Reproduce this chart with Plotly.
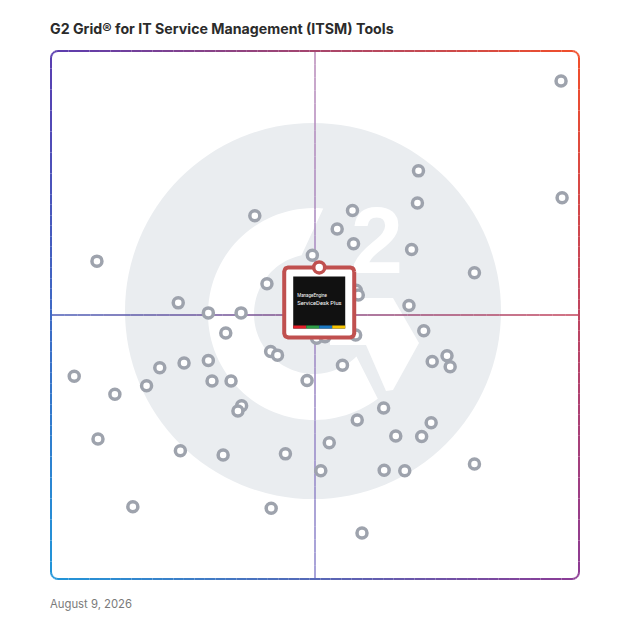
import numpy as np
import plotly.graph_objects as go

TITLE = "G2 Grid® for IT Service Management (ITSM) Tools"
DATE = "August 9, 2026"

# market presence (x) and satisfaction (y) for every product on the grid, 0-100
market_presence = [96.6, 96.8, 69.6, 69.4, 57.1, 38.6, 54.2, 57.3, 68.3, 49.5,
                   8.7, 80.2, 40.9, 57.8, 58.2, 24.1, 67.8, 29.8, 36.0, 33.1,
                   70.6, 57.7, 50.3, 51.9, 41.6, 42.9, 75.0, 72.2, 75.6, 55.2,
                   25.2, 20.6, 29.8, 4.4, 12.1, 18.1, 30.5, 34.1, 48.5, 36.1,
                   35.4, 63.0, 58.0, 72.0, 70.2, 65.3, 52.7, 8.9, 24.5, 32.6,
                   44.4, 80.2, 51.1, 63.1, 67.0, 15.5, 41.7, 58.9]
satisfaction = [94.3, 72.2, 77.3, 71.2, 69.8, 68.8, 66.3, 63.5, 62.4, 61.3,
                60.2, 58.0, 55.9, 54.7, 53.8, 52.3, 51.8, 50.4, 50.4, 46.6,
                47.0, 46.2, 45.6, 45.9, 43.1, 42.4, 42.3, 41.2, 40.2, 40.5,
                40.9, 40.0, 41.4, 38.4, 35.0, 36.6, 37.5, 37.5, 37.6, 32.8,
                31.8, 32.4, 30.1, 29.6, 27.0, 27.1, 25.8, 26.5, 24.3, 23.5,
                23.7, 21.8, 20.5, 20.6, 20.5, 13.7, 13.4, 8.7]

# highlighted product
hl_name = ["ManageEngine", "ServiceDesk Plus"]
hl_x = 50.8
hl_y = 59.0

PX = 5.28  # pixels per grid unit (528 px square)
OFF = 8    # page body margin of the browser


def P(px, py):
    # pixel position in the screenshot -> grid units
    return (px - 51) / PX, (579 - py) / PX


def hex2rgb(h):
    return np.array([int(h[i:i + 2], 16) for i in (1, 3, 5)], dtype=float)


def rgb(c):
    return "rgb(%d,%d,%d)" % tuple(int(round(v)) for v in c)


def rounded_rect(x0, y0, x1, y1, r, n=8):
    xs, ys = [], []
    corners = [(x1 - r, y1 - r, 0), (x0 + r, y1 - r, 90),
               (x0 + r, y0 + r, 180), (x1 - r, y0 + r, 270)]
    for cx, cy, a0 in corners:
        for t in np.linspace(a0, a0 + 90, n):
            xs.append(cx + r * np.cos(np.radians(t)))
            ys.append(cy + r * np.sin(np.radians(t)))
    xs.append(xs[0])
    ys.append(ys[0])
    return xs, ys


def densify(xs, ys, step=2.0):
    ox, oy = [xs[0]], [ys[0]]
    for i in range(1, len(xs)):
        d = np.hypot(xs[i] - xs[i - 1], ys[i] - ys[i - 1])
        k = max(1, int(np.ceil(d / step)))
        for j in range(1, k + 1):
            ox.append(xs[i - 1] + (xs[i] - xs[i - 1]) * j / k)
            oy.append(ys[i - 1] + (ys[i] - ys[i - 1]) * j / k)
    return ox, oy


# corner colours of the gradient frame
TL, TR = hex2rgb("#5a3db0"), hex2rgb("#f24e2a")
BL, BR = hex2rgb("#2196d9"), hex2rgb("#8c3b95")


def frame_color(x, y):
    u, v = min(max(x / 100, 0), 1), min(max(y / 100, 0), 1)
    return rgb((1 - u) * (1 - v) * BL + u * (1 - v) * BR + (1 - u) * v * TL + u * v * TR)


shapes = []

# --- faint G2 logo in the background ---
lx, ly = P(313, 311)
R = 188 / PX
shapes.append(dict(type="circle", xref="x", yref="y", x0=lx - R, x1=lx + R, y0=ly - R, y1=ly + R,
                   fillcolor="#eaedf0", line=dict(width=0), layer="below"))

cx, cy = P(314, 314)
r_out, r_in = 106 / PX, 60 / PX
a_out = np.radians(np.linspace(85, 307, 80))
a_in = np.radians(np.linspace(315, 102, 80))
ring = ["M %.3f %.3f" % (cx + r_out * np.cos(a_out[0]), cy + r_out * np.sin(a_out[0]))]
ring += ["L %.3f %.3f" % (cx + r_out * np.cos(a), cy + r_out * np.sin(a)) for a in a_out[1:]]
ring += ["L %.3f %.3f" % (cx + r_in * np.cos(a), cy + r_in * np.sin(a)) for a in a_in]
shapes.append(dict(type="path", xref="x", yref="y", path=" ".join(ring) + " Z",
                   fillcolor="white", line=dict(width=0), layer="below"))

chev = [P(330, 298), P(393, 298), P(419, 343), P(393, 390), P(386, 391), P(366, 345), P(330, 345)]
path = "M " + " L ".join("%.3f %.3f" % p for p in chev) + " Z"
shapes.append(dict(type="path", xref="x", yref="y", path=path,
                   fillcolor="white", line=dict(width=0), layer="below"))

# --- quadrant lines with gradients ---
n_seg = 40
vt, vb = hex2rgb("#b98ab9"), hex2rgb("#8a85cc")
hl_c, hr_c = hex2rgb("#4a5db8"), hex2rgb("#c4435a")
for i in range(n_seg):
    t0, t1 = i / n_seg * 100, (i + 1) / n_seg * 100
    tm = (i + 0.5) / n_seg
    shapes.append(dict(type="line", xref="x", yref="y", x0=50, x1=50, y0=t0, y1=t1,
                       line=dict(color=rgb(vb * (1 - tm) + vt * tm), width=1.5), layer="below"))
    shapes.append(dict(type="line", xref="x", yref="y", x0=t0, x1=t1, y0=50, y1=50,
                       line=dict(color=rgb(hl_c * (1 - tm) + hr_c * tm), width=1.5), layer="below"))

# --- rounded gradient frame ---
fx, fy = rounded_rect(0, 0, 100, 100, 7 / PX, n=7)
fx, fy = densify(fx, fy, step=2.0)
for i in range(1, len(fx)):
    mx, my = (fx[i] + fx[i - 1]) / 2, (fy[i] + fy[i - 1]) / 2
    shapes.append(dict(type="line", xref="x", yref="y", x0=fx[i - 1], x1=fx[i], y0=fy[i - 1], y1=fy[i],
                       line=dict(color=frame_color(mx, my), width=2), layer="below"))

fig = go.Figure()

# the "2" of the logo, kept under the markers
tx, ty = P(377, 249)
fig.add_trace(go.Scatter(x=[tx], y=[ty], mode="text", text=["2"], hoverinfo="skip",
                         textfont=dict(family="Liberation Sans", size=94, color="white", weight="bold")))

# products
fig.add_trace(go.Scatter(x=market_presence, y=satisfaction, mode="markers",
                         marker=dict(size=10, color="white", line=dict(color="#9ea3ad", width=3.5)),
                         hovertemplate="Market presence %{x}<br>Satisfaction %{y}<extra></extra>"))

# highlighted product card
half = 35 / PX
bx0, bx1 = hl_x - half, hl_x + half
by0, by1 = hl_y - 2 * half, hl_y
bcx, bcy = hl_x, hl_y - half
xs, ys = rounded_rect(bx0, by0, bx1, by1, 4 / PX)
fig.add_trace(go.Scatter(x=xs, y=ys, mode="lines", fill="toself", fillcolor="white",
                         line=dict(color="#c0504f", width=4), hoverinfo="skip"))

lh = 26 / PX
fig.add_trace(go.Scatter(x=[bcx - lh, bcx + lh, bcx + lh, bcx - lh, bcx - lh],
                         y=[bcy - lh, bcy - lh, bcy + lh, bcy + lh, bcy - lh],
                         mode="lines", fill="toself", fillcolor="#111111",
                         line=dict(width=0), hoverinfo="skip"))

strip = ["#e4202a", "#2e9e48", "#1a78c2", "#f6c400"]
sw = 2 * lh / len(strip)
for k, c in enumerate(strip):
    sx0 = bcx - lh + k * sw
    fig.add_trace(go.Scatter(x=[sx0, sx0 + sw, sx0 + sw, sx0, sx0],
                             y=[bcy - lh, bcy - lh, bcy - lh + 3 / PX, bcy - lh + 3 / PX, bcy - lh],
                             mode="lines", fill="toself", fillcolor=c,
                             line=dict(width=0), hoverinfo="skip"))

fig.add_trace(go.Scatter(x=[bcx - 22 / PX], y=[bcy + 7 / PX], mode="text", text=[hl_name[0]],
                         textposition="middle right", hoverinfo="skip",
                         textfont=dict(family="Roboto", size=4.5, color="white")))
fig.add_trace(go.Scatter(x=[bcx - 22 / PX], y=[bcy - 1 / PX], mode="text", text=[hl_name[1]],
                         textposition="middle right", hoverinfo="skip",
                         textfont=dict(family="Roboto", size=5.8, color="white")))

fig.add_trace(go.Scatter(x=[hl_x], y=[hl_y], mode="markers",
                         marker=dict(size=11, color="white", line=dict(color="#c0504f", width=3.5)),
                         hovertemplate=" ".join(hl_name) + "<extra></extra>"))

rng = [-1 / PX, 100 + 1 / PX]
fig.update_layout(
    width=628, height=628,
    margin=dict(l=50 - OFF, r=48 + OFF, t=50 - OFF, b=48 + OFF),
    paper_bgcolor="white", plot_bgcolor="white",
    showlegend=False,
    xaxis=dict(range=rng, visible=False, fixedrange=True),
    yaxis=dict(range=rng, visible=False, fixedrange=True),
    title=dict(text=TITLE, xref="container", x=(50 - OFF) / 628, xanchor="left",
               yref="container", y=1 - (29 - OFF) / 628, yanchor="middle",
               font=dict(family="Inter", size=14.2, color="#2b2b2b", weight="bold")),
    annotations=[dict(text=DATE, xref="paper", yref="paper", x=-2.5 / 530, y=(580 - 604) / 530,
                      xanchor="left", yanchor="middle", showarrow=False,
                      font=dict(family="Inter", size=11.3, color="#7a7a7a"))],
    shapes=shapes,
)

fig.write_html("out.html")
